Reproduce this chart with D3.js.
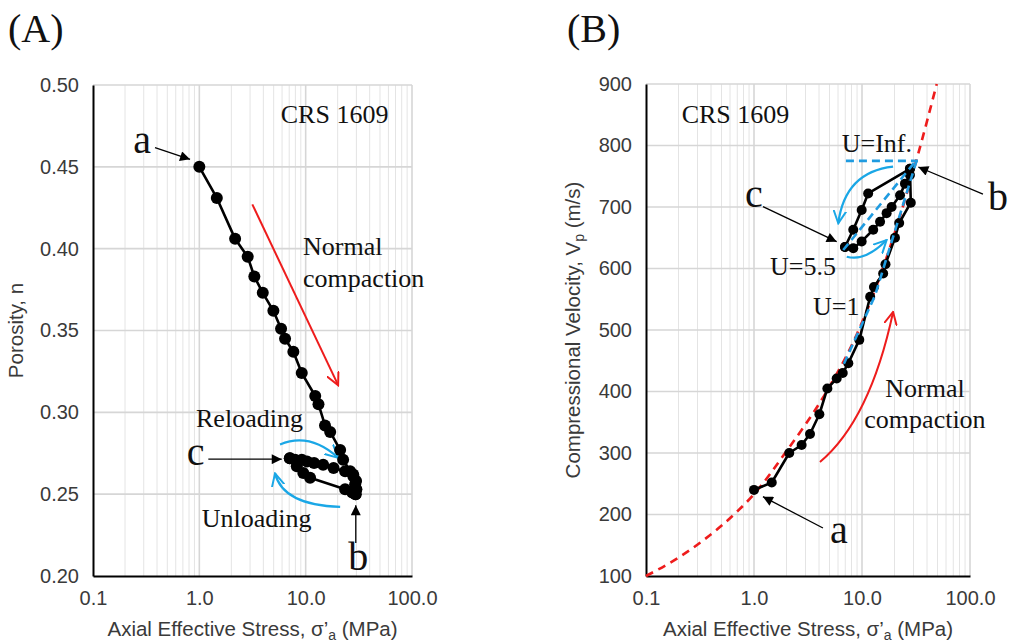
<!DOCTYPE html>
<html>
<head>
<meta charset="utf-8">
<script src="https://cdn.jsdelivr.net/npm/d3@7"></script>
<style>
  body { margin: 0; background: #fff; }
  svg { display: block; }
</style>
</head>
<body>
<svg id="fig" width="1012" height="644"></svg>
<script>
// ---------- axis ticks ----------
const stressTicks = [0.1, 1, 10, 100];
const stressTickLabels = ["0.1", "1.0", "10.0", "100.0"];
const porosityTicks = [0.20, 0.25, 0.30, 0.35, 0.40, 0.45, 0.50];
const vpTicks = [100, 200, 300, 400, 500, 600, 700, 800, 900];

// ---------- (A) porosity vs axial effective stress ----------
const loadA_stress = [1.0, 1.46, 2.17, 2.85, 3.29, 3.95, 4.97, 5.87, 6.40, 7.66, 9.19, 12.3, 13.2, 15.2, 17.0, 21.1, 22.5, 26.2, 28.1, 29.2, 29.5];
const loadA_n      = [0.450, 0.431, 0.406, 0.395, 0.383, 0.373, 0.362, 0.351, 0.345, 0.337, 0.324, 0.310, 0.305, 0.292, 0.288, 0.277, 0.271, 0.264, 0.261, 0.256, 0.250];
const unloadA_stress = [29.5, 27.4, 23.5, 11.0, 9.5, 8.25, 7.1];
const unloadA_n      = [0.250, 0.251, 0.253, 0.260, 0.263, 0.267, 0.272];
const reloadA_stress = [7.1, 7.95, 9.2, 10.3, 12.0, 14.6, 18.3, 23.5, 28.0, 29.8, 30.0];
const reloadA_n      = [0.272, 0.271, 0.271, 0.270, 0.269, 0.268, 0.266, 0.264, 0.262, 0.258, 0.253];

// ---------- (B) P-wave velocity vs axial effective stress ----------
const loadB_stress = [1.0, 1.46, 2.12, 2.76, 3.30, 4.03, 4.78, 5.83, 6.63, 7.47, 9.44, 11.9, 12.9, 15.7, 16.5, 20.2, 22.1, 28.3, 27.8];
const loadB_vp     = [240, 252, 300, 313, 331, 363, 405, 421, 430, 446, 484, 554, 570, 592, 607, 650, 674, 707, 762];
const unloadB_stress = [27.8, 11.4, 9.93, 8.3, 6.96];
const unloadB_vp     = [762, 722, 695, 663, 635];
const reloadB_stress = [6.96, 8.3, 9.93, 12.7, 14.7, 16.9, 18.8, 22.5, 25.0, 27.8];
const reloadB_vp     = [635, 633, 644, 663, 676, 690, 700, 719, 738, 752];

// normal-compaction trend (red dashed)
const trendB_stress = [0.1, 0.2, 0.339, 0.69, 1.0, 2.0, 4.7, 8.9, 16.3, 33.2, 49.2];
const trendB_vp     = [100, 130, 158, 204, 233, 303, 400, 492, 610, 787, 900];

// unloading-parameter lines (blue dashed)
const uInf_stress = [7.1, 33];
const uInf_vp     = [775, 775];
const u55_stress  = [6.7, 31.5];
const u55_vp      = [630, 775];
const u1_stress   = [6.8, 13.2, 32];
const u1_vp       = [445, 556, 775];

// ---------- styling ----------
const SERIF = "'Liberation Serif', 'Times New Roman', serif";
const SANS = "'Liberation Sans', Arial, sans-serif";
const CYAN = "#1aa7e6";
const RED = "#ee1c1c";
const UBLUE = "#1f9be0";
const INK = "#3a3a3a";

const svg = d3.select("#fig");
const defs = svg.append("defs");

defs.append("marker").attr("id", "headBlack")
  .attr("viewBox", "0 0 10 10").attr("refX", 10).attr("refY", 5)
  .attr("markerWidth", 13).attr("markerHeight", 10)
  .attr("markerUnits", "userSpaceOnUse").attr("orient", "auto")
  .append("path").attr("d", "M0,0 L10,5 L0,10 Z").attr("fill", "#000");

function openHead(id, color) {
  defs.append("marker").attr("id", id)
    .attr("viewBox", "0 0 10 10").attr("refX", 9).attr("refY", 5)
    .attr("markerWidth", 14).attr("markerHeight", 14)
    .attr("markerUnits", "userSpaceOnUse").attr("orient", "auto")
    .append("path").attr("d", "M0,0.5 L9,5 L0,9.5")
    .attr("fill", "none").attr("stroke", color).attr("stroke-width", 1.4)
    .attr("stroke-linecap", "round");
}
openHead("headCyan", CYAN);
openHead("headRed", RED);

const zip = (a, b) => a.map((v, i) => [v, b[i]]);

function buildPanel(cfg) {
  const g = svg.append("g");
  const x = d3.scaleLog().domain([0.1, 100]).range([cfg.left, cfg.right]);
  const y = d3.scaleLinear().domain(cfg.yDomain).range([cfg.bottom, cfg.top]);

  // minor vertical grid (2..9 per decade)
  const minor = [];
  for (let k = -1; k < 2; k++) for (let m = 2; m < 10; m++) minor.push(m * Math.pow(10, k));
  g.append("g").selectAll("line").data(minor).join("line")
    .attr("x1", d => x(d)).attr("x2", d => x(d))
    .attr("y1", cfg.top).attr("y2", cfg.bottom)
    .attr("stroke", "#e4e4e4").attr("stroke-width", 1);
  // major vertical grid
  g.append("g").selectAll("line").data(stressTicks.slice(1)).join("line")
    .attr("x1", d => x(d)).attr("x2", d => x(d))
    .attr("y1", cfg.top).attr("y2", cfg.bottom)
    .attr("stroke", "#d6d6d6").attr("stroke-width", 1.6);
  // horizontal grid
  g.append("g").selectAll("line").data(cfg.yTicks.slice(1)).join("line")
    .attr("x1", cfg.left).attr("x2", cfg.right)
    .attr("y1", d => y(d)).attr("y2", d => y(d))
    .attr("stroke", "#d6d6d6").attr("stroke-width", 1.6);

  // axes
  const ax = g.append("g").attr("transform", `translate(0,${cfg.bottom})`)
    .call(d3.axisBottom(x).tickValues(stressTicks)
      .tickFormat((d, i) => stressTickLabels[i]).tickSize(0).tickPadding(15));
  const ay = g.append("g").attr("transform", `translate(${cfg.left},0)`)
    .call(d3.axisLeft(y).tickValues(cfg.yTicks).tickFormat(cfg.yFormat)
      .tickSize(0).tickPadding(14));
  [ax, ay].forEach(a => {
    a.select(".domain").attr("stroke", "#000").attr("stroke-width", 2);
    a.selectAll("text").attr("font-family", SANS).attr("font-size", 20)
      .attr("fill", INK);
  });

  // axis titles
  const xt = g.append("text")
    .attr("x", (cfg.left + cfg.right) / 2).attr("y", 636)
    .attr("text-anchor", "middle").attr("font-family", SANS)
    .attr("font-size", 20.5).attr("fill", INK);
  xt.append("tspan").text("Axial Effective Stress, σ’");
  xt.append("tspan").text("a").attr("font-size", 14).attr("dy", 4);
  xt.append("tspan").text(" (MPa)").attr("dy", -4);

  const yt = g.append("text")
    .attr("transform", `translate(${cfg.yTitleX},${(cfg.top + cfg.bottom) / 2}) rotate(-90)`)
    .attr("text-anchor", "middle").attr("font-family", SANS)
    .attr("font-size", 20.5).attr("fill", INK);
  cfg.yTitle(yt);

  // panel letter
  svg.append("text").attr("x", cfg.letterX).attr("y", 42)
    .attr("font-family", SERIF).attr("font-size", 40).attr("fill", "#111")
    .text(cfg.letter);

  return { g, x, y };
}

function drawSeries(p, xs, ys, r) {
  const pts = zip(xs, ys);
  const line = d3.line().x(d => p.x(d[0])).y(d => p.y(d[1]));
  p.g.append("path").datum(pts).attr("d", line)
    .attr("fill", "none").attr("stroke", "#000").attr("stroke-width", 2.6)
    .attr("stroke-linejoin", "round");
  p.g.append("g").selectAll("circle").data(pts).join("circle")
    .attr("cx", d => p.x(d[0])).attr("cy", d => p.y(d[1])).attr("r", r)
    .attr("fill", "#000");
}

function label(p, txt, at, size, anchor) {
  p.g.append("text").attr("x", p.x(at[0])).attr("y", p.y(at[1]))
    .attr("text-anchor", anchor || "start")
    .attr("font-family", SERIF).attr("font-size", size).attr("fill", "#111")
    .text(txt);
}

function pointer(p, from, to) {
  p.g.append("line")
    .attr("x1", p.x(from[0])).attr("y1", p.y(from[1]))
    .attr("x2", p.x(to[0])).attr("y2", p.y(to[1]))
    .attr("stroke", "#000").attr("stroke-width", 1.3)
    .attr("marker-end", "url(#headBlack)");
}

function curvedArrow(p, s, c, e, color, marker, w) {
  p.g.append("path")
    .attr("d", `M${p.x(s[0])},${p.y(s[1])} Q${p.x(c[0])},${p.y(c[1])} ${p.x(e[0])},${p.y(e[1])}`)
    .attr("fill", "none").attr("stroke", color).attr("stroke-width", w)
    .attr("marker-end", `url(#${marker})`);
}

// ================= Panel A =================
const A = buildPanel({
  left: 93, right: 412, top: 85, bottom: 576,
  yDomain: [0.20, 0.50], yTicks: porosityTicks, yFormat: d3.format(".2f"),
  yTitleX: 23, letter: "(A)", letterX: 8,
  yTitle: t => t.text("Porosity, n")
});

label(A, "CRS 1609", [5.83, 0.4766], 26);
label(A, "Normal", [9.45, 0.3961], 26);
label(A, "compaction", [9.45, 0.3767], 26);
label(A, "Reloading", [0.931, 0.2911], 26);
label(A, "Unloading", [1.053, 0.2300], 26);
label(A, "a", [0.239, 0.4584], 40);
label(A, "c", [0.761, 0.2677], 40);
label(A, "b", [25.2, 0.2035], 40);

// straight red trend arrow
A.g.append("line")
  .attr("x1", A.x(3.15)).attr("y1", A.y(0.4271))
  .attr("x2", A.x(20.2)).attr("y2", A.y(0.3166))
  .attr("stroke", RED).attr("stroke-width", 2).attr("marker-end", "url(#headRed)");

curvedArrow(A, [5.74, 0.2804], [11.0, 0.2879], [20.2, 0.2722], CYAN, "headCyan", 2.2);
curvedArrow(A, [21.1, 0.2422], [6.13, 0.2433], [5.15, 0.2627], CYAN, "headCyan", 2.2);

drawSeries(A, loadA_stress, loadA_n, 6);
drawSeries(A, unloadA_stress, unloadA_n, 6);
drawSeries(A, reloadA_stress, reloadA_n, 6);

pointer(A, [0.383, 0.4617], [0.818, 0.4546]);
pointer(A, [1.215, 0.2714], [5.96, 0.2714]);
pointer(A, [29.6, 0.2201], [29.6, 0.2433]);

// ================= Panel B =================
const B = buildPanel({
  left: 646, right: 970, top: 84, bottom: 576,
  yDomain: [100, 900], yTicks: vpTicks, yFormat: d3.format("d"),
  yTitleX: 580, letter: "(B)", letterX: 567,
  yTitle: t => {
    t.append("tspan").text("Compressional Velocity, V");
    t.append("tspan").text("p").attr("font-size", 14).attr("dy", 4);
    t.append("tspan").text(" (m/s)").attr("dy", -4);
  }
});

// normal-compaction trend
B.g.append("path").datum(zip(trendB_stress, trendB_vp))
  .attr("d", d3.line().x(d => B.x(d[0])).y(d => B.y(d[1])).curve(d3.curveMonotoneX))
  .attr("fill", "none").attr("stroke", RED).attr("stroke-width", 2.6)
  .attr("stroke-dasharray", "8,6");

label(B, "CRS 1609", [0.214, 836.6], 26);
label(B, "U=Inf.", [6.49, 790], 26);
label(B, "U=5.5", [1.406, 589.4], 26);
label(B, "U=1", [3.52, 524.4], 26);
label(B, "Normal", [38.3, 391], 26, "middle");
label(B, "compaction", [38.3, 340.7], 26, "middle");
label(B, "a", [5.05, 153.7], 40);
label(B, "c", [0.825, 700.5], 40);
label(B, "b", [146.8, 695], 40);

curvedArrow(B, [4.08, 285.4], [11.86, 353.7], [19.4, 529.3], RED, "headRed", 2);

drawSeries(B, loadB_stress, loadB_vp, 5);
drawSeries(B, unloadB_stress, unloadB_vp, 5);
drawSeries(B, reloadB_stress, reloadB_vp, 5);

// unloading-parameter lines
[[uInf_stress, uInf_vp], [u55_stress, u55_vp], [u1_stress, u1_vp]].forEach(([xs, ys]) => {
  B.g.append("path").datum(zip(xs, ys))
    .attr("d", d3.line().x(d => B.x(d[0])).y(d => B.y(d[1])))
    .attr("fill", "none").attr("stroke", UBLUE).attr("stroke-width", 2.6)
    .attr("stroke-dasharray", "8,5");
});

curvedArrow(B, [19.4, 765.5], [6.96, 756.9], [6.03, 673.5], CYAN, "headCyan", 2.2);
curvedArrow(B, [7.22, 619.2], [10.66, 610.6], [16.9, 646.3], CYAN, "headCyan", 2.2);

pointer(B, [1.211, 700.5], [5.83, 643.6]);
pointer(B, [131.8, 721], [33.2, 765]);
pointer(B, [4.35, 178], [1.21, 229]);
</script>
</body>
</html>
